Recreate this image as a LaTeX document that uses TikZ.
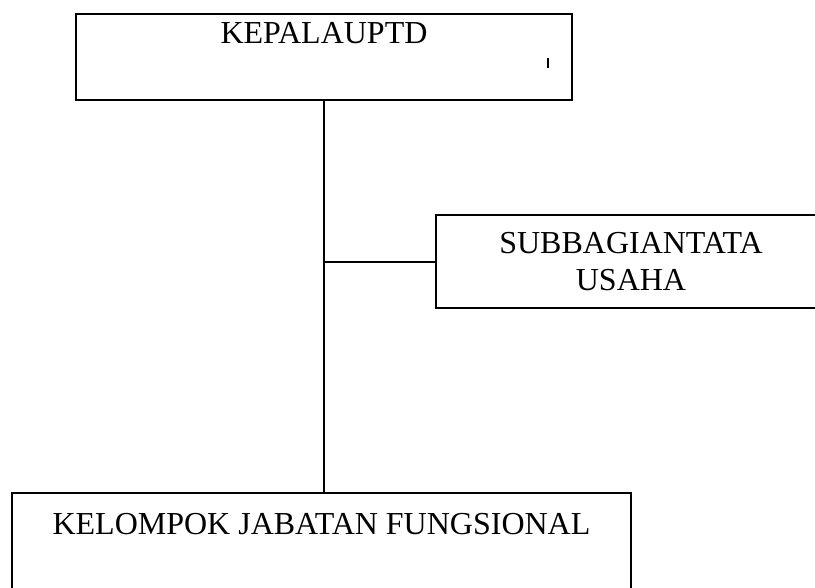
\documentclass[tikz,border=0pt]{standalone}
\usepackage{fontspec}
\setmainfont{Liberation Serif}
\usetikzlibrary{positioning}
\tikzset{
  orgbox/.style={rectangle, draw=black, line width=1.5pt,
    inner sep=0pt, font=\fontsize{24}{27.6}\selectfont, align=center},
  link/.style={line width=1.5pt}
}
\begin{document}
\begin{tikzpicture}[x=0.75pt,y=-0.75pt]
  \useasboundingbox (0,0) rectangle (815,587);
  \node[orgbox, anchor=north west, minimum width=372pt,
    text height=21.75pt, text depth=42.75pt] (kepala) at (75,13) {KEPALAUPTD};
  \node[orgbox, anchor=north west, minimum width=292.5pt,
    minimum height=69.75pt] (tatausaha) at (435,214) {SUBBAGIANTATA\\USAHA};
  \node[orgbox, anchor=north west, minimum width=464.25pt,
    text height=30.75pt, text depth=60pt] (fungsional) at (11,492)
    {KELOMPOK JABATAN FUNGSIONAL};
  \draw[link] (kepala.south) -- (kepala.south |- fungsional.north);
  \draw[link] (kepala.south |- tatausaha.west) -- (tatausaha.west);
  % stray mark inside the top box
  \draw[line width=0.9pt] (548,58) -- (548,68);
\end{tikzpicture}
\end{document}
